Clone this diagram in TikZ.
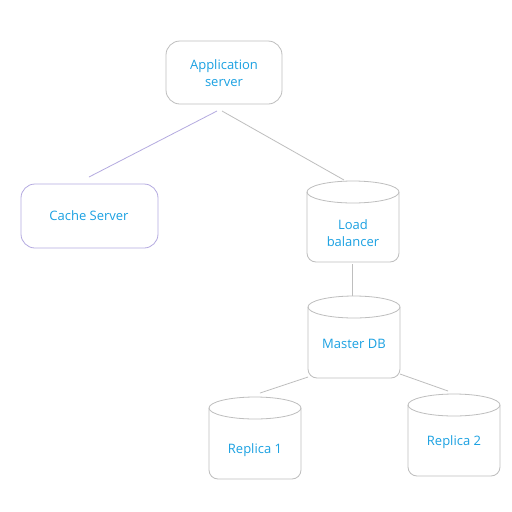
\documentclass[tikz,border=0pt]{standalone}
\usepackage{fontspec}
\setmainfont{Open Sans}
\definecolor{txtblue}{RGB}{27,161,226}
\definecolor{boxgray}{RGB}{190,190,190}
\definecolor{lavender}{RGB}{180,170,224}
\begin{document}
\begin{tikzpicture}[x=1pt,y=-1pt,
  db/.style={draw=boxgray,line width=0.8pt},
  link/.style={draw=boxgray,line width=0.8pt},
  lbl/.style={text=txtblue,align=center,font=\fontsize{13}{17}\selectfont}]
\useasboundingbox[fill=white](0,0)rectangle(512,512);
% servers
\draw[db,rounded corners=14pt](166,41)rectangle(282,104);
\node[lbl](app) at (224,73) {Application\\server};
\draw[db,draw=lavender,rounded corners=14pt](21,184)rectangle(158,248);
\node[lbl](cache) at (89,216) {Cache Server};
% databases
\foreach \n/\xa/\ya/\xb/\yb/\ty/\t in {lb/307/181/399/262/233/{Load\\balancer},master/308/296/400/378/344/{Master DB},rep1/209/397/301/479/450/{Replica 1},rep2/408/394/500/476/442/{Replica 2}}
{
\draw[db,rounded corners=9pt](\xa,{\ya+11})--(\xa,\yb)--(\xb,\yb)--(\xb,{\ya+11});
\draw[db]({(\xa+\xb)/2},{\ya+11}) ellipse [x radius={((\xb-\xa)/2)*1pt},y radius=11pt];
\node[lbl](\n) at ({(\xa+\xb)/2},\ty) {\t};
}
% links
\coordinate (app-l) at (217,111);
\coordinate (app-r) at (222,111);
\coordinate (cache-t) at (89,177);
\coordinate (lb-t) at (344,180);
\coordinate (lb-b) at (352,264);
\coordinate (master-t) at (352,296);
\coordinate (master-l) at (308,377);
\coordinate (master-r) at (400,374);
\coordinate (rep1-t) at (260,393);
\coordinate (rep2-t) at (448,391);
\draw[link,draw=lavender](app-l)--(cache-t);
\draw[link](app-r)--(lb-t);
\draw[link](lb-b)--(master-t);
\draw[link](master-l)--(rep1-t);
\draw[link](master-r)--(rep2-t);
\end{tikzpicture}
\end{document}
